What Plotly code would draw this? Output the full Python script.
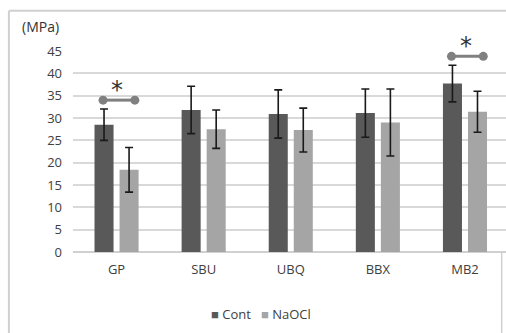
import plotly.graph_objects as go

categories = ["GP", "SBU", "UBQ", "BBX", "MB2"]
cont_mean = [28.5, 31.8, 30.9, 31.1, 37.7]
cont_err = [3.5, 5.3, 5.4, 5.4, 4.1]
naocl_mean = [18.4, 27.5, 27.3, 29.0, 31.4]
naocl_err = [5.0, 4.3, 4.9, 7.5, 4.6]
significant = ["GP", "MB2"]
y_ticks = [0, 5, 10, 15, 20, 25, 30, 35, 40, 45]
series_names = ["Cont", "NaOCl"]
series_colors = ["#595959", "#a5a5a5"]

xpos = list(range(len(categories)))
font = dict(family="Open Sans", size=13, color="#404040")

fig = go.Figure()
for name, color, mean, err in zip(series_names, series_colors, [cont_mean, naocl_mean], [cont_err, naocl_err]):
    fig.add_trace(go.Bar(
        x=xpos, y=mean, name=name, marker=dict(color=color, line=dict(width=0)),
        error_y=dict(type="data", array=err, color="#1a1a1a", thickness=1.6, width=4),
    ))

for cat in significant:
    i = categories.index(cat)
    yb = cont_mean[i] + cont_err[i] + 2.0
    fig.add_trace(go.Scatter(
        x=[i - 0.155, i + 0.21], y=[yb, yb], mode="lines+markers",
        line=dict(color="#808080", width=3), marker=dict(color="#808080", size=9),
        showlegend=False, hoverinfo="skip",
    ))
    fig.add_annotation(x=i + 0.01, y=yb, text="*", showarrow=False, yshift=10,
                       font=dict(family="DejaVu Sans", size=24, color="#333333"))

fig.add_annotation(xref="paper", yref="paper", x=-0.122, y=1.12, xanchor="left", yanchor="middle",
                   text="(MPa)", showarrow=False, font=dict(family="Open Sans", size=14, color="#333333"))

# legend row
legend_text = "&nbsp;&nbsp;&nbsp;".join(
    f"<span style='color:{c}'>■</span> {n}" for n, c in zip(series_names, series_colors))
fig.add_annotation(xref="paper", yref="paper", x=0.435, y=-0.31, xanchor="center", yanchor="middle",
                   text=legend_text, showarrow=False, font=dict(family="Open Sans", size=13, color="#404040"))

# outer chart border
fig.add_shape(type="line", xref="paper", yref="paper", x0=-0.148, x1=-0.148, y0=1.2, y1=-0.5,
              line=dict(color="#d0d0d0", width=2))
fig.add_shape(type="line", xref="paper", yref="paper", x0=-0.148, x1=1.0, y0=1.2, y1=1.2,
              line=dict(color="#d0d0d0", width=2))
fig.add_shape(type="line", xref="paper", yref="paper", x0=0.99, x1=0.99, y0=0, y1=-0.5,
              line=dict(color="#d0d0d0", width=1.5))

fig.update_layout(
    width=506, height=333, margin=dict(l=73, r=0, t=51, b=81),
    paper_bgcolor="white", plot_bgcolor="white",
    barmode="group", bargap=0.425, bargroupgap=0.24,
    font=font, showlegend=False,
)
fig.update_xaxes(range=[-0.5, 4.471], tickvals=xpos, ticktext=categories, showgrid=False,
                 zeroline=False, showline=False, ticks="", ticklabelstandoff=8, fixedrange=True)
fig.update_yaxes(range=[0, 45], tickvals=y_ticks, showgrid=True, gridcolor="#d9d9d9", gridwidth=1.5,
                 zeroline=True, zerolinecolor="#d0d0d0", zerolinewidth=1.5, showline=False,
                 ticks="", ticklabelstandoff=10, fixedrange=True)

fig.write_html("out.html")
